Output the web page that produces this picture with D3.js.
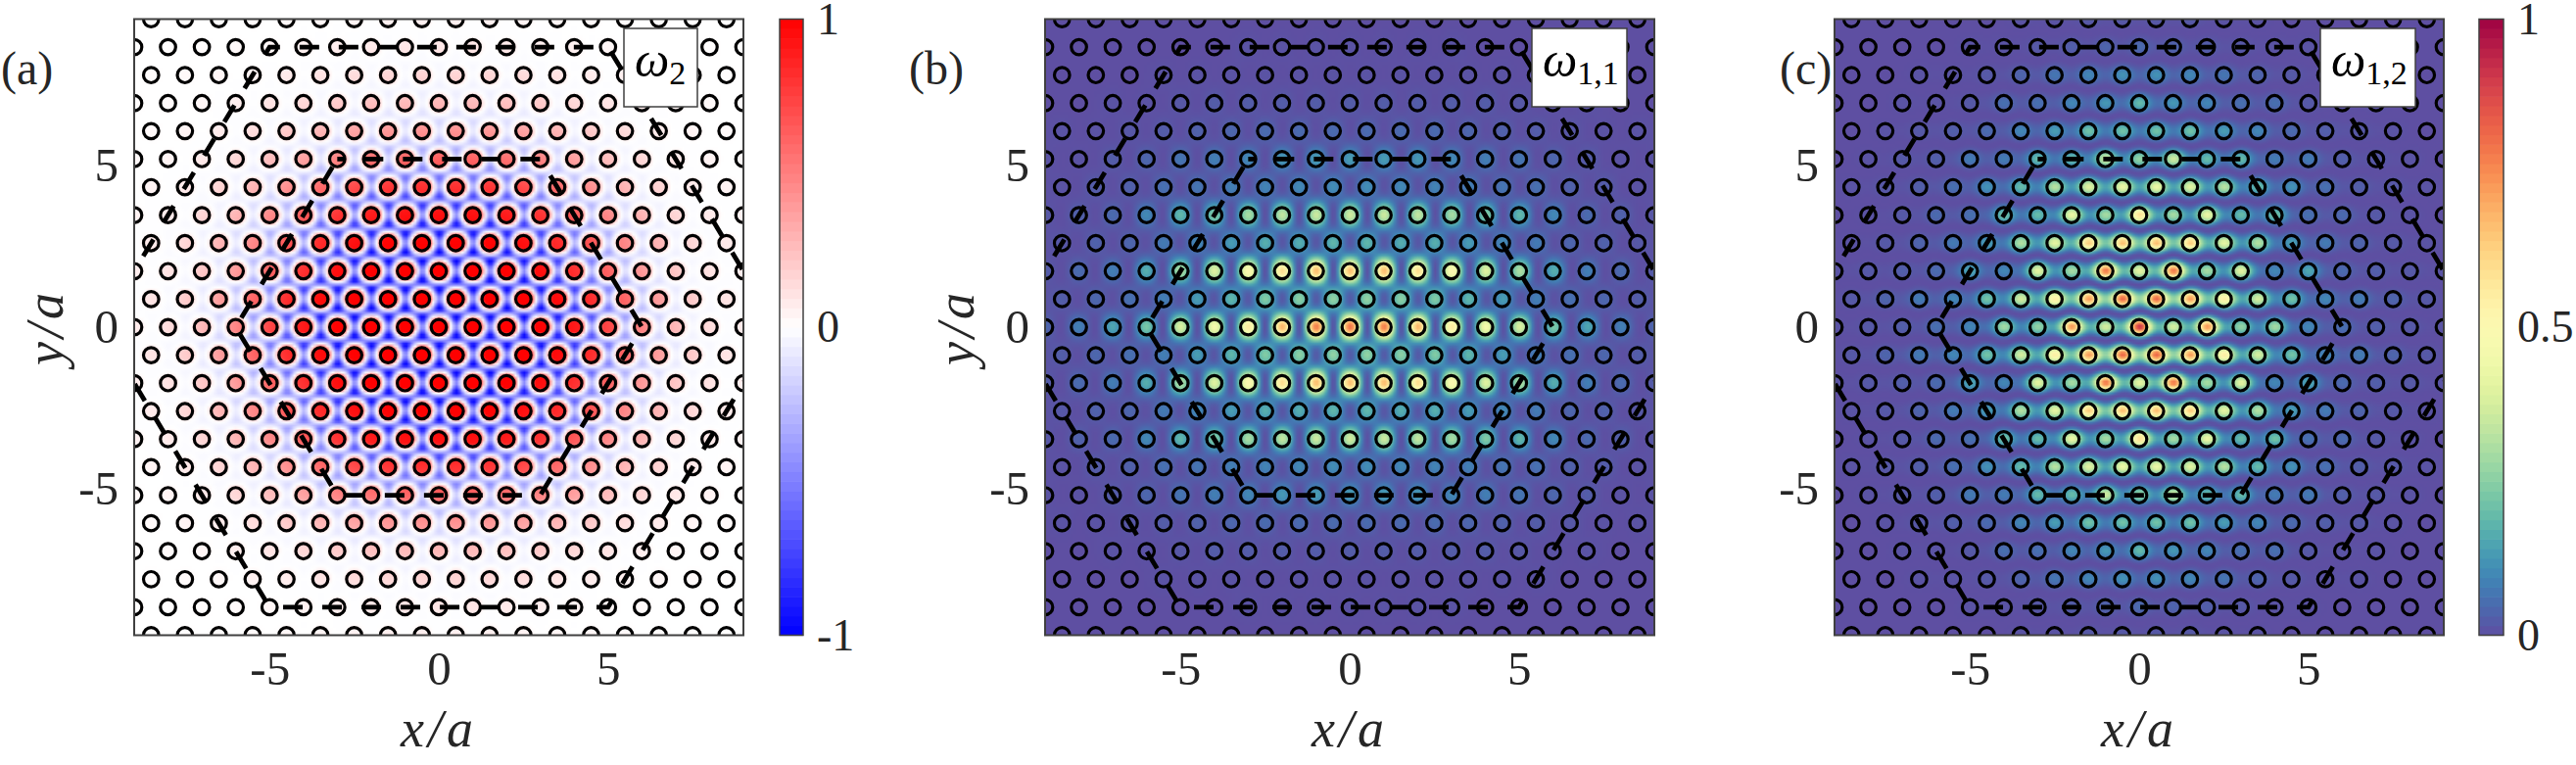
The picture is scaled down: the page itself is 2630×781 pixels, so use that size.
<!DOCTYPE html>
<html><head><meta charset="utf-8">
<script src="https://cdn.jsdelivr.net/npm/d3@7"></script>
<style>html,body{margin:0;padding:0;background:#fff}svg{display:block}</style>
</head><body><svg id="fig" width="2630" height="781"></svg>
<script>
// ---- data: site amplitudes for one quadrant, row |k| then column
const omega2Rows = [
 [1,1,1,1,.9,.72,.45,.25,.12,.06],
 [1,1,1,.98,.85,.62,.4,.2,.1],
 [1,1,1,.95,.8,.58,.36,.18,.09,.05],
 [1,1,.95,.85,.68,.48,.3,.16,.08],
 [.95,.95,.9,.8,.65,.45,.27,.14,.07,.04],
 [.82,.8,.72,.58,.42,.28,.16,.08,.04],
 [.62,.6,.55,.48,.36,.25,.14,.08,.04,.02],
 [.42,.4,.35,.28,.2,.13,.07,.04,.02],
 [.28,.26,.24,.2,.15,.1,.06,.03,.02,.01],
 [.16,.15,.13,.1,.07,.05,.03,.02,.01],
 [.09,.09,.08,.06,.05,.03,.02,.01,.01,0],
 [.05,.05,.04,.03,.03,.02,.01,.01,0]
];
const omega11Rows = [
 [.93,.91,.8,.66,.55,.45,.27,.18,.1,.05],
 [.31,.3,.28,.22,.16,.1,.07,.05,.03],
 [.78,.78,.7,.6,.47,.36,.2,.1,.06,.03],
 [.22,.2,.2,.16,.12,.09,.05,.04,.02],
 [.43,.42,.4,.35,.28,.22,.12,.06,.04,.02],
 [.13,.12,.11,.1,.08,.07,.04,.03,.01],
 [.16,.16,.15,.12,.1,.08,.05,.03,.01,.01],
 [.06,.06,.06,.05,.04,.03,.02,.01,.01],
 [.03,.03,.03,.03,.03,.02,.01,.01,0,0],
 [.01,.01,.01,.01,.01,.01,0,0,0],
 [.01,.01,.01,.01,0,0,0,0,0,0],
 [0,0,0,0,0,0,0,0,0]
];
const omega12Rows = [
 [.93,.38,.75,.27,.3,.1,.06,.03,.02,.01],
 [.82,.73,.55,.38,.22,.1,.08,.04,.02],
 [.42,.8,.3,.42,.1,.16,.05,.03,.02,.01],
 [.67,.64,.42,.32,.14,.08,.04,.02,.01],
 [.6,.3,.44,.2,.22,.06,.05,.02,.01,0],
 [.44,.41,.33,.2,.12,.06,.03,.02,.01],
 [.27,.37,.2,.2,.08,.08,.03,.02,.01,0],
 [.22,.22,.14,.1,.05,.03,.02,.01,0],
 [.2,.13,.1,.06,.06,.02,.01,.01,0,0],
 [.12,.1,.07,.04,.02,.01,.01,0,0],
 [.05,.04,.03,.02,.01,.01,0,0,0,0],
 [.02,.02,.01,.01,0,0,0,0,0]
];
const rowIndices = d3.range(-11, 12);
const innerHexagon = [[-3,6],[3,6],[6,0],[3,-6],[-3,-6],[-6,0],[-3,6]];
const outerUpper = [[-10,0],[-5,10],[5,10],[10,0]];
const outerLower = [[10,0],[5,-10],[-5,-10],[-10,0]];
const xTicks = [-5,0,5];
const yTicks = [-5,0,5];
const rowStep = Math.sqrt(3)/2;

// ---- layout
const svg = d3.select('#fig');
const top_ = 19.5, bot_ = 648.5, W = 622;
const INK = '#262626';
const SERIF = '"Liberation Serif","DejaVu Serif",serif';
const panels = [
 {left:137, rows:omega2Rows, letter:'(a)', letterX:0, yLabel:true, box:[637,712], sub:'2', kind:'w2'},
 {left:1067, rows:omega11Rows, letter:'(b)', letterX:927, yLabel:true, box:[1564,1661], sub:'1,1', kind:'w11'},
 {left:1873, rows:omega12Rows, letter:'(c)', letterX:1816, yLabel:false, box:[2369,2466], sub:'1,2', kind:'w12'}
];
const divColor = d3.scaleLinear().domain([-1,0,1]).range(['#0000ff','#ffffff','#ff0000']).clamp(true);
const spectral = t => d3.interpolateSpectral(1 - Math.max(0, Math.min(1, t)));

function sitesFrom(rows){
  const out = [];
  rowIndices.forEach(k=>{
    const odd = Math.abs(k)%2===1, r = rows[Math.abs(k)];
    r.forEach((a,j)=>{
      const x0 = odd ? j+.5 : j;
      [x0,-x0].forEach((x,i)=>{ if(i===1 && x0===0) return;
        out.push({x, k, y:k*rowStep, a, j}); });
    });
  });
  return out;
}
function fieldValue(kind, sites, x, y){
  const near = sites.filter(s=>Math.abs(s.x-x)<2.2 && Math.abs(s.y-y)<2.2);
  if(kind==='w2'){
    let sw=0, sa=0;
    near.forEach(s=>{const d=(s.x-x)**2+(s.y-y)**2, w=Math.exp(-d/.5); sw+=w; sa+=w*s.a;});
    const A = sw>0 ? sa/sw : 0;
    const p=2*Math.PI, q=1/Math.sqrt(3);
    const g=(Math.cos(p*(x+q*y))+Math.cos(p*(x-q*y))+Math.cos(p*2*q*y))/3;
    return g>0 ? A*Math.min(1,g/.5) : -Math.pow(A,1.9)*Math.pow(-g/.5,1.9);
  }
  if(kind==='w11'){
    let e=0,o=0;
    near.forEach(s=>{const d=(s.x-x)**2+(s.y-y)**2, K=Math.exp(-d/.30);
      const sign=Math.round(Math.abs(s.x)-(Math.abs(s.k)%2?.5:0))%2?-1:1;
      const sx=(s.x<0 && Math.abs(s.k)%2)?-sign:sign;
      if(Math.abs(s.k)%2) o+=sx*Math.sqrt(s.a)*K; else e+=sign*Math.sqrt(s.a)*K;});
    return e*e+o*o;
  }
  let v=0;
  near.forEach(s=>{const dx=s.x-x, dy=s.y-y, K=Math.exp(-dx*dx/.21-dy*dy/.17);
    v+=(Math.abs(s.k)%2?-1:1)*Math.sqrt(s.a)*K;});
  return v*v;
}
function fieldImage(p, xs, ys){
  const step=3, n=Math.round(W/step), m=Math.round((bot_-top_)/step);
  const c=document.createElement('canvas'); c.width=n; c.height=m;
  const ctx=c.getContext('2d'), sites=sitesFrom(p.rows), col=p.kind==='w2'?divColor:spectral;
  for(let j=0;j<m;j++)for(let i=0;i<n;i++){
    const x=xs.invert(p.left+(i+.5)*step), y=ys.invert(top_+(j+.5)*step);
    ctx.fillStyle=col(fieldValue(p.kind,sites,x,y)); ctx.fillRect(i,j,1,1);
  }
  return c.toDataURL();
}
panels.forEach((p,pi)=>{
  const xs=d3.scaleLinear().domain([-9,9]).range([p.left,p.left+W]);
  const ys=d3.scaleLinear().domain([-11*rowStep,11*rowStep]).range([bot_,top_]);
  const g=svg.append('g');
  const clip='clip'+pi;
  svg.append('clipPath').attr('id',clip).append('rect').attr('x',p.left).attr('y',top_).attr('width',W).attr('height',bot_-top_);
  g.append('image').attr('x',p.left).attr('y',top_).attr('width',W).attr('height',bot_-top_)
    .attr('preserveAspectRatio','none').attr('href',fieldImage(p,xs,ys));
  const inner=g.append('g').attr('clip-path',`url(#${clip})`);
  inner.selectAll('circle').data(sitesFrom(p.rows)).join('circle')
    .attr('cx',d=>xs(d.x)).attr('cy',d=>ys(d.y)).attr('r',7.8)
    .attr('fill','none').attr('stroke','#000').attr('stroke-width',3.2);
  const line=d3.line().x(d=>xs(d[0])).y(d=>ys(d[1]*rowStep));
  [[innerHexagon,13],[outerUpper,-4.7],[outerLower,34.2]].forEach(([v,off])=>{
    inner.append('path').attr('d',line(v)).attr('fill','none').attr('stroke','#000')
      .attr('stroke-width',4.8).attr('stroke-dasharray','20 20').attr('stroke-dashoffset',off);
  });
  g.append('rect').attr('x',p.left).attr('y',top_).attr('width',W).attr('height',bot_-top_)
    .attr('fill','none').attr('stroke','#404040').attr('stroke-width',2);
  // axes
  const ax=g.append('g').attr('transform',`translate(0,${bot_})`)
    .call(d3.axisBottom(xs).tickValues(xTicks).tickSize(0).tickPadding(16).tickFormat(d=>String(d)));
  const ay=g.append('g').attr('transform',`translate(${p.left},0)`)
    .call(d3.axisLeft(ys).tickValues(yTicks).tickSize(0).tickPadding(16).tickFormat(d=>String(d)));
  [ax,ay].forEach(a=>{a.select('.domain').remove();
    a.selectAll('text').attr('font-family',SERIF).attr('font-size',49).attr('fill',INK);});
  // labels
  g.append('text').attr('x',p.left+W/2).attr('y',762).attr('text-anchor','middle')
    .attr('font-family',SERIF).attr('font-style','italic').attr('font-size',54).attr('letter-spacing',4).attr('fill',INK).text('x/a');
  if(p.yLabel){
    g.append('text').attr('transform',`translate(${p.left-73},${(top_+bot_)/2}) rotate(-90)`).attr('text-anchor','middle')
      .attr('font-family',SERIF).attr('font-style','italic').attr('font-size',54).attr('letter-spacing',4).attr('fill',INK).text('y/a');
  }
  g.append('text').attr('x',p.letterX+1).attr('y',86).attr('font-family',SERIF).attr('font-size',48).attr('fill',INK).text(p.letter);
  // omega box
  g.append('rect').attr('x',p.box[0]).attr('y',29).attr('width',p.box[1]-p.box[0]).attr('height',80)
    .attr('fill','#fff').attr('stroke','#404040').attr('stroke-width',1.5);
  const t=g.append('text').attr('x',p.box[0]+11).attr('y',78).attr('font-family',SERIF).attr('fill','#000');
  t.append('tspan').attr('font-size',50).attr('font-style','italic').text('\u03c9');
  t.append('tspan').attr('font-size',34).attr('dy',8).text(p.sub);
});
// colour bars
function colorbar(x0, w, dom, colour, ticks, fmt){
  const y=d3.scaleLinear().domain(dom).range([bot_,top_]);
  const edges=d3.range(0,65).map(i=>dom[0]+(dom[1]-dom[0])*i/64);
  const g=svg.append('g');
  g.selectAll('rect').data(edges.slice(0,-1)).join('rect')
    .attr('x',x0).attr('width',w)
    .attr('y',(d,i)=>y(edges[i+1])).attr('height',(d,i)=>y(edges[i])-y(edges[i+1])+.6)
    .attr('fill',(d,i)=>colour((edges[i]+edges[i+1])/2));
  g.append('rect').attr('x',x0).attr('y',top_).attr('width',w).attr('height',bot_-top_)
    .attr('fill','none').attr('stroke','#404040').attr('stroke-width',1.5);
  const a=g.append('g').attr('transform',`translate(${x0+w},0)`)
    .call(d3.axisRight(y).tickValues(ticks).tickSize(0).tickPadding(14).tickFormat(fmt));
  a.select('.domain').remove();
  a.selectAll('text').attr('font-family',SERIF).attr('font-size',46).attr('fill',INK);
}
colorbar(796,24,[-1,1],divColor,[-1,0,1],d=>String(d));
colorbar(2531,25,[0,1],spectral,[0,.5,1],d=>String(d));
</script></body></html>
